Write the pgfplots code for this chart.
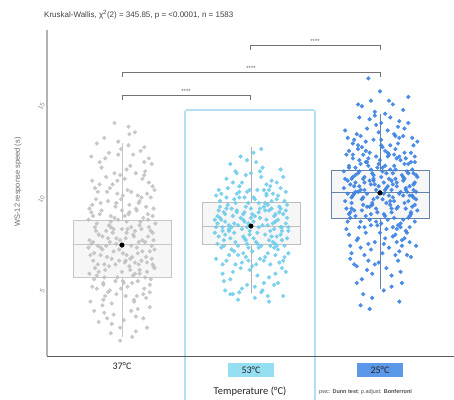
\documentclass[border=0pt]{standalone}
\usepackage{pgfplots}
\pgfplotsset{compat=1.18}
\usepackage{pgfplotstable}
\usepackage{fontspec}
\setmainfont{Liberation Sans}
\newfontfamily\calibri{Carlito}
\definecolor{c37}{RGB}{192,192,192}
\definecolor{c53}{RGB}{112,205,236}
\definecolor{c25}{RGB}{60,130,226}
\definecolor{b53}{RGB}{150,222,242}
\definecolor{b25}{RGB}{92,152,232}
\definecolor{hl}{RGB}{178,224,242}
\pgfplotstableread{
x y
-0.31 7.2
0.12 5.4
-0.05 9.8
0.27 6.1
-0.18 4.3
0.03 8.6
0.33 10.2
-0.24 11.5
0.15 3.2
-0.09 6.7
0.21 7.9
-0.29 5.8
0.07 12.4
-0.14 8.1
0.30 4.9
-0.02 2.6
0.18 9.3
-0.33 8.8
0.09 6.3
-0.21 7.5
0.25 11.0
-0.11 3.9
0.01 5.1
0.32 7.0
-0.26 9.9
0.14 13.1
-0.07 6.0
0.23 4.4
-0.17 10.7
0.05 7.7
-0.30 3.5
0.28 8.4
-0.04 11.9
0.11 2.1
-0.23 6.5
0.19 5.7
-0.12 8.3
0.35 6.8
-0.35 5.5
0.06 10.0
-0.19 12.8
0.26 9.1
-0.01 4.7
0.16 6.9
-0.28 7.8
0.02 3.0
0.31 5.2
-0.15 9.4
0.10 8.0
-0.08 13.6
0.22 7.3
-0.32 10.5
0.13 4.1
-0.25 2.9
0.29 11.7
-0.03 6.2
0.17 9.7
-0.20 5.0
0.04 7.4
-0.13 4.6
0.24 10.8
-0.27 8.2
0.08 5.9
-0.06 7.1
0.34 9.0
-0.16 6.4
0.20 12.1
-0.34 4.0
0.00 8.9
0.15 2.4
-0.22 11.2
0.27 5.6
-0.10 10.3
0.12 7.6
-0.30 6.6
0.30 3.7
-0.01 9.5
0.18 6.0
-0.24 8.7
0.06 4.8
-0.14 12.0
0.23 8.5
-0.05 5.3
0.33 7.7
-0.19 3.4
0.09 11.3
-0.32 9.2
0.14 6.1
-0.09 7.9
0.26 4.2
-0.27 5.4
0.03 10.6
-0.17 7.0
0.21 9.6
-0.02 1.9
0.32 6.3
-0.12 8.0
0.11 5.0
-0.35 7.3
0.07 13.4
-0.21 6.8
0.25 7.2
-0.07 9.1
0.17 3.6
-0.29 10.1
0.01 6.6
0.28 8.7
-0.15 4.5
0.13 7.5
-0.04 12.6
0.35 5.8
-0.25 7.6
0.05 8.3
-0.11 2.8
0.22 6.7
-0.31 8.6
0.10 9.9
-0.18 5.7
0.29 10.4
-0.06 7.4
0.16 4.3
-0.23 9.3
0.04 6.2
-0.33 11.8
0.19 5.5
-0.08 10.9
0.31 7.8
-0.16 3.1
0.08 8.8
-0.26 6.0
0.24 11.5
0.00 5.6
-0.13 7.2
0.15 9.0
-0.20 4.9
-0.36 6.9
0.19 8.1
-0.02 7.3
0.34 5.9
-0.27 4.7
0.08 9.2
0.26 6.4
-0.13 10.1
0.14 5.5
-0.22 8.9
0.03 6.1
0.31 9.6
-0.31 6.2
0.10 7.0
-0.06 4.4
0.22 10.6
-0.17 7.8
0.36 8.2
-0.09 3.3
0.17 6.6
-0.28 9.5
0.05 11.1
-0.19 5.3
0.28 7.5
-0.04 8.4
0.13 4.0
-0.33 7.1
0.24 12.3
-0.11 6.3
0.01 9.7
0.30 4.5
-0.24 10.3
0.09 5.7
-0.15 7.4
0.20 8.3
-0.01 12.2
-0.35 9.0
0.33 6.0
-0.07 5.1
0.15 10.9
-0.21 3.8
0.06 7.9
0.27 9.8
-0.30 5.2
0.11 6.4
-0.12 8.6
0.23 3.1
-0.26 7.0
0.02 5.0
0.35 10.0
-0.16 9.9
0.18 7.2
-0.03 6.8
0.29 8.0
-0.34 6.5
0.12 11.9
-0.20 4.1
0.07 8.7
-0.10 7.7
0.25 5.3
-0.29 8.0
0.04 4.3
0.32 11.4
-0.14 5.9
0.16 8.9
-0.05 10.5
0.21 6.2
-0.23 6.9
0.00 7.9
0.27 2.6
-0.18 11.7
0.10 3.5
-0.32 4.8
0.34 7.3
-0.08 8.5
0.19 9.4
-0.25 5.6
0.05 6.5
-0.12 2.3
0.30 6.7
-0.36 8.4
0.14 7.8
-0.02 10.8
0.24 4.7
-0.19 6.0
0.08 13.0
-0.27 12.5
0.17 5.1
-0.06 9.3
0.33 8.6
}\ptsA
\pgfplotstableread{
x y
0.72 8.4
1.05 7.1
0.91 9.6
1.24 8.0
0.83 6.5
1.12 10.3
0.95 8.8
1.28 7.4
0.76 9.1
1.01 5.9
1.18 8.6
0.87 7.7
1.09 11.2
0.74 8.2
1.21 6.8
0.97 9.9
1.14 7.3
0.81 10.6
1.26 9.4
0.93 6.1
1.07 8.5
0.79 7.0
1.16 9.0
0.89 8.9
1.03 4.8
1.23 10.1
0.85 8.0
1.11 6.4
0.73 9.7
0.99 7.6
1.19 8.3
0.92 11.8
1.29 7.8
0.77 6.9
1.06 9.3
0.84 5.2
1.13 8.1
0.96 10.8
1.25 6.2
0.80 8.7
1.02 7.4
1.17 9.8
0.88 7.2
1.08 12.2
0.75 7.5
1.22 8.8
0.94 6.6
1.10 10.0
0.82 9.2
1.27 5.6
0.98 8.2
1.15 7.0
0.86 10.4
1.04 6.0
1.20 9.5
0.90 4.1
1.12 8.4
0.78 8.0
1.00 9.0
1.24 7.3
0.85 6.8
1.07 11.0
0.93 7.9
1.19 6.5
0.76 9.4
1.03 8.6
1.14 5.3
0.89 9.8
1.28 8.5
0.97 7.1
1.09 4.6
0.80 7.6
1.22 9.1
0.95 8.3
1.16 10.5
0.73 6.3
1.05 7.7
0.87 9.5
1.26 7.0
0.99 5.7
1.11 8.9
0.83 8.1
1.18 6.9
0.91 10.2
1.02 9.6
1.23 8.0
0.79 7.3
1.08 4.5
0.94 8.7
1.20 7.5
0.84 11.4
1.13 9.2
0.77 8.4
1.01 6.7
1.27 9.9
0.90 7.0
1.06 8.0
0.86 4.4
1.15 7.8
0.96 9.1
1.21 5.0
0.74 8.6
1.10 6.2
0.92 8.5
1.25 10.7
0.81 9.0
1.04 7.2
1.17 8.2
0.88 6.0
1.00 10.9
1.29 6.6
0.78 5.5
1.12 9.7
0.95 7.4
1.19 8.7
0.83 7.8
1.07 6.3
0.98 9.3
1.23 7.6
0.75 10.0
1.14 4.0
0.89 8.8
1.03 4.2
0.97 4.9
1.24 5.8
0.80 4.6
0.75 8.9
1.02 8.3
1.19 7.1
0.88 9.3
1.27 8.2
0.94 7.5
1.10 9.1
0.81 6.2
1.15 10.2
0.98 6.9
1.23 9.0
0.86 8.6
1.05 10.0
0.72 7.7
1.18 7.9
0.91 9.9
1.13 6.6
0.79 8.8
1.26 6.4
1.00 8.5
1.08 7.0
0.84 7.4
1.21 8.4
0.96 6.4
1.16 9.4
0.77 9.8
1.03 9.5
1.25 8.7
0.90 8.1
1.11 7.6
0.82 10.1
1.20 10.4
0.99 7.8
1.06 6.9
0.87 6.7
1.28 9.2
0.93 10.4
1.14 8.9
0.74 7.1
1.09 8.1
0.85 9.0
1.22 6.1
0.97 8.0
1.17 7.2
0.80 8.3
1.04 11.5
0.92 5.8
1.24 7.8
0.78 6.0
1.12 9.8
0.95 9.6
1.19 5.5
0.89 10.9
1.01 8.7
1.27 8.9
0.83 7.9
1.07 9.0
0.76 8.5
1.15 6.0
0.98 6.2
1.21 9.7
0.86 5.6
1.10 5.0
0.93 4.7
1.18 4.9
0.79 5.1
1.05 5.4
0.91 4.5
1.25 4.3
0.84 4.4
1.13 4.3
0.97 11.6
1.02 12.0
0.88 11.0
1.23 11.1
0.81 9.6
1.16 7.5
0.94 8.4
1.08 10.7
0.73 8.0
1.29 8.0
0.99 10.0
1.11 9.3
0.87 8.2
1.20 7.0
0.96 7.3
1.06 8.8
0.78 7.8
1.14 10.0
0.90 6.5
}\ptsB
\pgfplotstableread{
x y
1.72 10.1
2.05 9.3
1.91 11.7
2.24 8.8
1.83 12.4
2.12 7.6
1.95 10.8
2.28 9.9
1.76 11.2
2.01 8.2
2.18 12.9
1.87 9.6
2.09 10.5
1.74 7.9
2.21 11.0
1.97 13.5
2.14 9.1
1.81 8.6
2.26 10.3
1.93 6.8
2.07 11.9
1.79 10.7
2.16 8.0
1.89 12.1
2.03 9.8
2.23 7.2
1.85 10.0
2.11 13.0
1.73 9.4
1.99 11.4
2.19 10.6
1.92 8.4
2.29 12.6
1.77 6.3
2.06 10.2
1.84 11.6
2.13 9.0
1.96 14.2
2.25 9.7
1.80 8.9
2.02 12.3
2.17 7.0
1.88 10.4
2.08 11.1
1.75 12.8
2.22 8.5
1.94 9.2
2.10 10.9
1.82 5.9
2.27 11.8
1.98 8.1
2.15 13.7
1.86 9.5
2.04 7.4
2.20 10.0
1.90 11.5
2.12 6.5
1.78 10.6
2.00 9.9
2.24 12.0
1.85 8.3
2.07 14.8
1.93 10.3
2.19 9.3
1.76 11.3
2.03 8.7
2.14 12.5
1.89 7.7
2.28 10.8
1.97 9.0
2.09 5.4
1.80 9.8
2.22 11.4
1.95 10.5
2.16 8.2
1.73 13.2
2.05 10.1
1.87 11.9
2.26 9.6
1.99 6.1
2.11 9.4
1.83 12.2
2.18 10.7
1.91 7.1
2.02 11.0
2.23 8.6
1.79 9.7
2.08 13.9
1.94 10.9
2.20 7.8
1.84 10.2
2.13 11.7
1.77 8.8
2.01 12.7
2.27 10.4
1.90 9.1
2.06 8.4
1.86 14.5
2.15 6.7
1.98 11.2
2.21 9.9
1.81 10.8
2.10 7.5
1.92 12.0
2.25 11.1
1.78 9.3
2.04 10.0
2.17 5.0
1.88 8.0
2.00 15.3
2.29 8.9
1.75 10.5
2.12 12.2
1.95 9.5
2.19 13.3
1.82 7.3
2.07 10.6
1.89 11.5
2.24 6.4
1.96 10.3
2.09 9.0
1.74 11.9
2.14 8.1
1.85 12.9
2.03 4.6
2.22 10.9
1.93 8.7
2.11 11.3
1.80 6.0
2.18 9.7
1.99 10.2
2.26 12.4
1.87 9.2
2.05 7.9
1.77 8.5
2.16 11.6
1.92 13.8
2.01 10.7
2.28 7.0
1.84 11.0
2.10 9.6
1.97 8.3
2.20 10.1
1.79 12.5
2.06 11.8
1.90 5.7
2.13 10.4
1.83 9.9
2.23 8.0
1.96 14.0
2.08 9.4
1.76 7.6
2.15 12.8
1.88 10.0
2.02 6.6
2.25 9.1
1.81 11.2
2.12 10.6
1.94 4.2
2.19 7.4
1.86 5.2
2.04 12.1
2.27 11.5
1.78 9.0
2.09 8.8
1.91 16.0
1.85 3.8
1.92 3.6
2.15 4.0
2.22 15.0
1.83 14.6
1.74 9.0
2.04 11.3
1.88 10.7
2.19 12.0
1.81 9.9
2.11 8.5
1.95 12.7
2.26 10.9
1.77 10.3
2.02 9.5
2.15 11.8
1.86 8.9
2.08 12.4
1.72 11.0
2.22 9.4
1.93 11.1
2.13 10.2
1.79 11.7
2.27 8.3
1.97 10.0
2.06 13.2
1.83 7.4
2.17 10.8
1.90 9.8
2.00 11.6
2.24 11.5
1.76 12.1
2.10 8.0
1.92 10.5
2.20 9.0
1.85 11.4
2.03 7.1
2.28 9.5
1.80 10.2
2.14 13.4
1.98 8.8
2.07 9.7
1.89 12.6
2.21 7.7
1.75 8.3
2.12 11.1
1.94 9.3
2.18 10.5
1.82 13.0
2.05 10.9
1.96 7.2
2.25 12.8
1.78 9.6
2.09 10.0
1.91 11.3
2.16 9.9
1.87 10.6
2.01 12.4
2.23 10.2
1.73 10.6
2.13 7.9
1.99 13.1
2.27 9.2
1.84 8.0
2.04 8.6
1.92 9.1
2.19 11.4
1.80 12.7
2.10 10.3
1.95 10.6
2.22 13.6
1.77 7.0
2.06 12.0
1.88 6.5
2.15 9.8
2.00 7.7
2.29 10.7
1.83 10.9
2.11 11.9
1.93 8.1
2.18 8.4
1.86 12.3
2.03 10.4
2.24 8.7
1.79 11.9
2.08 9.2
1.97 11.8
2.14 6.2
1.90 13.3
2.20 11.7
1.75 9.8
2.02 11.2
1.94 5.5
2.26 10.0
1.85 6.9
2.12 12.9
1.98 9.6
2.17 7.3
1.81 10.4
2.07 6.9
1.89 8.6
2.23 9.7
1.76 8.7
2.05 5.8
1.91 6.2
2.16 5.6
1.82 5.0
2.09 4.8
1.96 6.0
2.21 6.5
1.87 4.4
2.13 7.2
1.78 6.6
2.01 13.6
2.18 14.3
1.93 14.8
1.84 13.9
2.10 14.6
2.04 14.1
}\ptsC
\pgfplotstableread{
x y
0 7.04
1 8.06
2 9.84
}\means
\begin{document}
\begin{tikzpicture}
\useasboundingbox (-47pt,-43pt) rectangle (407pt,356pt);
\draw[color=hl, line width=1.6pt, rounded corners=2pt] (138pt,-48pt) rectangle (268pt,246pt);
\setlength{\fboxsep}{4pt}
\begin{axis}[
  at={(0pt,0pt)}, anchor=south west,
  scale only axis, width=407pt, height=326pt,
  xmin=-0.581, xmax=2.574, ymin=1.075, ymax=18.6,
  axis x line=bottom, axis y line=left,
  x axis line style={-, draw=black!65, line width=0.9pt},
  y axis line style={-, draw=black!30, line width=2.2pt},
  xtick={0,1,2},
  xticklabels={37°C, \colorbox{b53}{\makebox[38pt]{53°C}}, \colorbox{b25}{\makebox[38pt]{25°C}}},
  xticklabel style={font=\calibri\fontsize{10}{11}\selectfont, text=black!85, yshift=-3pt},
  ytick={5,10,15},
  yticklabels={5,10,15},
  yticklabel style={font=\fontsize{6.5}{7}\selectfont, text=black!45, rotate=60, anchor=east, xshift=-4pt},
  major tick length=0pt,
  /pgf/number format/assume math mode=true,
  clip=false,
]
\addplot[only marks, mark=*, mark size=1.9pt, color=c37, opacity=0.85] table[x expr=\thisrow{x}*0.72, y=y] {\ptsA};
\addplot[only marks, mark=*, mark size=1.9pt, color=c53, opacity=0.9] table[x=x,y=y] {\ptsB};
\addplot[only marks, mark=*, mark size=1.9pt, color=c25, opacity=0.9] table[x=x,y=y] {\ptsC};
% box 37
\addplot[draw=black!22, fill=black!10, fill opacity=0.35, line width=0.6pt] coordinates {(-0.38,5.32) (0.38,5.32) (0.38,8.39) (-0.38,8.39)} -- cycle;
\addplot[draw=black!22, line width=0.6pt] coordinates {(-0.38,7.10) (0.38,7.10)};
\addplot[draw=black!22, line width=0.6pt] coordinates {(0,2.1) (0,5.32)};
\addplot[draw=black!22, line width=0.6pt] coordinates {(0,8.39) (0,12.5)};
% box 53
\addplot[draw=black!25, fill=black!10, fill opacity=0.35, line width=0.6pt] coordinates {(0.62,7.10) (1.38,7.10) (1.38,9.35) (0.62,9.35)} -- cycle;
\addplot[draw=black!25, line width=0.6pt] coordinates {(0.62,8.06) (1.38,8.06)};
\addplot[draw=black!30, line width=0.6pt] coordinates {(1,4.46) (1,7.10)};
\addplot[draw=black!30, line width=0.6pt] coordinates {(1,9.35) (1,12.3)};
% box 25
\addplot[draw=c25!60!black!70, fill=black!10, fill opacity=0.35, line width=0.6pt] coordinates {(1.62,8.49) (2.38,8.49) (2.38,11.08) (1.62,11.08)} -- cycle;
\addplot[draw=c25!60!black!70, line width=0.6pt] coordinates {(1.62,9.89) (2.38,9.89)};
\addplot[draw=c25!60!black!70, line width=0.6pt] coordinates {(2,4.67) (2,8.49)};
\addplot[draw=c25!60!black!70, line width=0.6pt] coordinates {(2,11.08) (2,14.1)};
\addplot[only marks, mark=*, mark size=2.3pt, black] table[x=x,y=y] {\means};
\end{axis}
% significance brackets
\begin{scope}[draw=black!55, line width=0.7pt]
\draw (75pt,256pt) -- (75pt,261pt) -- (203pt,261pt) -- (203pt,256pt);
\draw (75pt,279pt) -- (75pt,284pt) -- (333pt,284pt) -- (333pt,279pt);
\draw (203pt,306pt) -- (203pt,311pt) -- (333pt,311pt) -- (333pt,306pt);
\end{scope}
\begin{scope}[font=\fontsize{6}{6}\selectfont, text=black!60]
\node[anchor=south, inner sep=1pt] at (139pt,261pt) {****};
\node[anchor=south, inner sep=1pt] at (204pt,284pt) {****};
\node[anchor=south, inner sep=1pt] at (268pt,311pt) {****};
\end{scope}
\node[anchor=west, inner sep=0pt, font=\fontsize{8}{9}\selectfont, text=black!75] at (-3pt,341pt) {Kruskal-Wallis, χ\textsuperscript{2}(2) = 345.85, p = <0.0001, n = 1583};
\node[rotate=90, inner sep=0pt, font=\fontsize{7.5}{8}\selectfont, text=black!60] at (-29pt,174pt) {WS-12 response speed (s)};
\node[inner sep=0pt, font=\calibri\fontsize{10.5}{11}\selectfont, text=black!85] at (203pt,-36pt) {Temperature (°C)};
\node[anchor=west, inner sep=0pt, font=\fontsize{5.5}{6}\selectfont, text=black!70] at (272pt,-36pt) {pwc: \textbf{Dunn test}; p.adjust: \textbf{Bonferroni}};
\end{tikzpicture}
\end{document}
